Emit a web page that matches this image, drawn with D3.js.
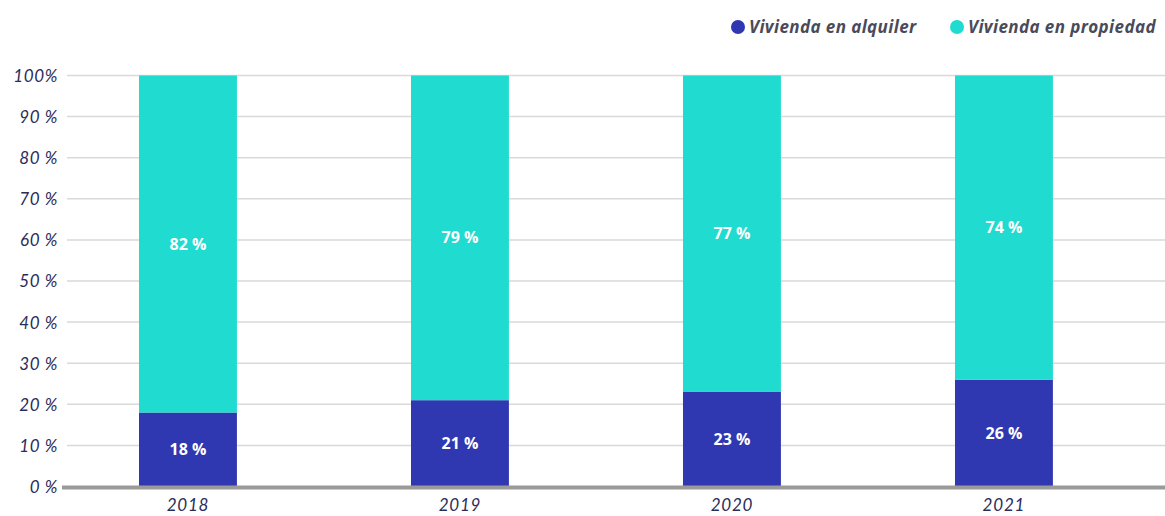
<!DOCTYPE html>
<html>
<head>
<meta charset="utf-8">
<script src="https://cdn.jsdelivr.net/npm/d3@7"></script>
<style>
  body { margin: 0; background: #fff; }
  svg { display: block; }
</style>
</head>
<body>
<div id="chart"></div>
<script>
'use strict';

const years = ['2018', '2019', '2020', '2021'];
const alquiler = [18, 21, 23, 26];
const propiedad = [82, 79, 77, 74];
const seriesNames = ['Vivienda en alquiler', 'Vivienda en propiedad'];
const yTicks = [0, 10, 20, 30, 40, 50, 60, 70, 80, 90, 100];

const width = 1165, height = 516;
const margin = { top: 75, right: 5, bottom: 30, left: 67 };
const colors = ['#2f38b1', '#1fdbd0'];

const svg = d3.select('#chart').append('svg')
  .attr('width', width)
  .attr('height', height);

// step 272px, bar 98px, first bar at x=139
const x = d3.scaleBand()
  .domain(years)
  .range([57.4, 1134.5])
  .paddingInner(0.64)
  .paddingOuter(0.3);

const y = d3.scaleLinear()
  .domain([0, 100])
  .range([486.5, 75.5]);

// gridlines
svg.append('g')
  .selectAll('line')
  .data(yTicks.filter(d => d > 0))
  .join('line')
    .attr('x1', margin.left)
    .attr('x2', width)
    .attr('y1', d => y(d))
    .attr('y2', d => y(d))
    .attr('stroke', '#d9d9d9')
    .attr('stroke-width', 1.5);

// y axis labels
const yAxis = svg.append('g')
  .attr('transform', `translate(${margin.left - 9},0)`)
  .call(d3.axisLeft(y).tickValues(yTicks).tickSize(0).tickFormat(d => d === 100 ? '100%' : d + ' %'));
yAxis.select('.domain').remove();
yAxis.selectAll('text')
  .attr('x', 0)
  .attr('dy', '0.35em')
  .style('font-family', 'Lato, "Open Sans", sans-serif')
  .style('font-style', 'italic')
  .style('font-size', '17px')
  .style('letter-spacing', '0.6px')
  .style('fill', '#2a2c5a');

// stacked data
const rows = years.map((yr, i) => ({ year: yr, alquiler: alquiler[i], propiedad: propiedad[i] }));
const stack = d3.stack().keys(['alquiler', 'propiedad'])(rows);

const layers = svg.append('g')
  .selectAll('g')
  .data(stack)
  .join('g')
    .attr('fill', (d, i) => colors[i]);

layers.selectAll('rect')
  .data(d => d)
  .join('rect')
    .attr('x', d => x(d.data.year))
    .attr('width', x.bandwidth())
    .attr('y', d => y(d[1]))
    .attr('height', d => y(d[0]) - y(d[1]));

layers.selectAll('text')
  .data(d => d.map(p => ({ p, key: d.key })))
  .join('text')
    .attr('x', d => x(d.p.data.year) + x.bandwidth() / 2)
    .attr('y', d => y((d.p[0] + d.p[1]) / 2))
    .attr('dy', '0.35em')
    .attr('text-anchor', 'middle')
    .style('font-family', '"Open Sans", sans-serif')
    .style('font-weight', 'bold')
    .style('font-size', '16px')
    .style('fill', '#fff')
    .text(d => d.p.data[d.key] + ' %');

// baseline
svg.append('line')
  .attr('x1', 62)
  .attr('x2', width)
  .attr('y1', y(0) + 1)
  .attr('y2', y(0) + 1)
  .attr('stroke', '#9a9a9a')
  .attr('stroke-width', 4);

// x axis labels
svg.append('g')
  .selectAll('text')
  .data(years)
  .join('text')
    .attr('x', d => x(d) + x.bandwidth() / 2)
    .attr('y', 505)
    .attr('dy', '0.35em')
    .attr('text-anchor', 'middle')
    .style('font-family', 'Lato, "Open Sans", sans-serif')
    .style('font-style', 'italic')
    .style('font-size', '17px')
    .style('letter-spacing', '0.8px')
    .style('fill', '#2a2c5a')
    .text(d => d);

// legend
const legendX = [738, 957];
const legend = svg.append('g')
  .selectAll('g')
  .data(seriesNames)
  .join('g')
    .attr('transform', (d, i) => `translate(${legendX[i]},27)`);
legend.append('circle')
  .attr('r', 7)
  .attr('fill', (d, i) => colors[i]);
legend.append('text')
  .attr('x', 11)
  .attr('dy', '0.35em')
  .style('font-family', '"Open Sans", sans-serif')
  .style('font-style', 'italic')
  .style('font-weight', 'bold')
  .style('font-size', '17px')
  .style('letter-spacing', '0.4px')
  .style('fill', '#4a4a5a')
  .text(d => d);
</script>
</body>
</html>
